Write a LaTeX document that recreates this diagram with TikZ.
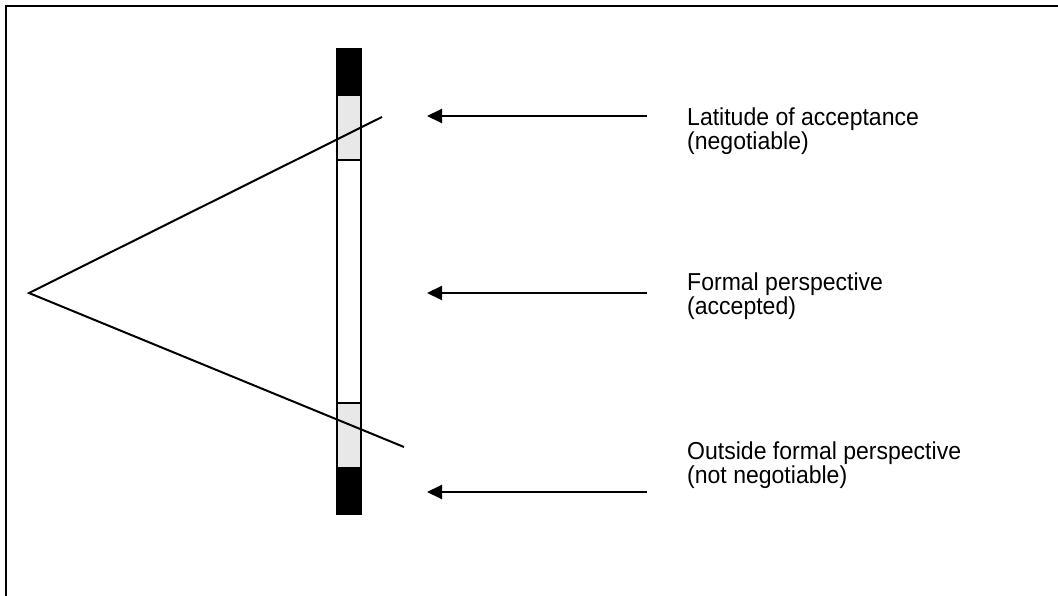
\documentclass[tikz,border=0pt]{standalone}
\usepackage{fontspec}
\setmainfont[FakeStretch=0.94]{Liberation Sans}
\usetikzlibrary{arrows.meta}
\begin{document}
\begin{tikzpicture}[x=1pt,y=-1pt,
  ln/.style={line width=2pt, black},
  seg/.style={draw=black, line width=1.5pt, minimum width=24pt, inner sep=0pt, outer sep=0pt},
  arr/.style={line width=2pt, -{Triangle[length=15pt,width=14pt]}},
  lbl/.style={anchor=west, align=left, font=\fontsize{24.5}{24.5}\selectfont, inner sep=0pt}]
\useasboundingbox (0,0) rectangle (1058,596);
\begin{scope}
\clip (0,0) rectangle (1058,596);
\draw[line width=2.2pt] (6,6) rectangle (1080,620);
\end{scope}
% bar
\node[seg, fill=black, minimum height=46pt] (b1) at (349,72) {};
\node[seg, fill=black!9, minimum height=65pt] (g1) at (349,127.5) {};
\node[seg, fill=white, minimum height=243pt] (w) at (349,281.5) {};
\node[seg, fill=black!9, minimum height=65pt] (g2) at (349,435.5) {};
\node[seg, fill=black, minimum height=46pt] (b2) at (349,491) {};
% triangle
\coordinate (apex) at (29,293);
\coordinate (up) at (382,117);
\coordinate (lo) at (404,447);
\draw[ln] (up) -- (apex) -- (lo);
% labels
\node[lbl] (l1) at (687,131) {Latitude of acceptance\\(negotiable)};
\node[lbl] (l2) at (687,296) {Formal perspective\\(accepted)};
\node[lbl] (l3) at (687,465) {Outside formal perspective\\(not negotiable)};
% arrows
\coordinate (s1) at (647,116); \coordinate (t1) at (427,116);
\coordinate (s2) at (647,293); \coordinate (t2) at (427,293);
\coordinate (s3) at (647,492); \coordinate (t3) at (427,492);
\draw[arr] (s1) -- (t1);
\draw[arr] (s2) -- (t2);
\draw[arr] (s3) -- (t3);
\end{tikzpicture}
\end{document}
